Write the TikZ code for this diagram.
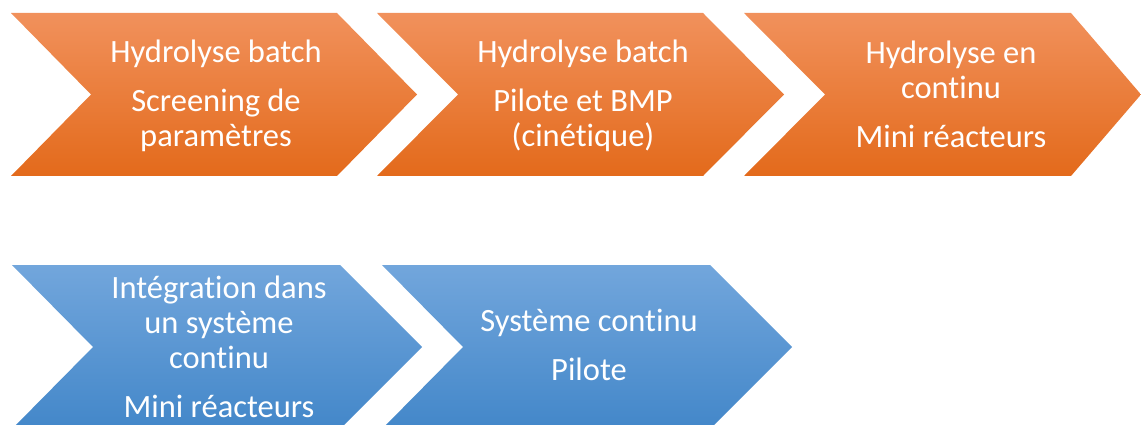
\documentclass[tikz,border=0pt]{standalone}
\usepackage{fontspec}
\setmainfont[Ligatures=NoCommon]{Carlito}
\definecolor{orTop}{RGB}{241,145,92}
\definecolor{orMid}{RGB}{242,125,43}
\definecolor{orBot}{RGB}{227,106,27}
\definecolor{blTop}{RGB}{114,166,220}
\definecolor{blMid}{RGB}{85,153,217}
\definecolor{blBot}{RGB}{67,135,201}
\tikzset{
  orangechev/.style={top color=orTop, middle color=orMid, bottom color=orBot, draw=none},
  bluechev/.style={top color=blTop, middle color=blMid, bottom color=blBot, draw=none},
  label/.style={text=white, align=center, inner sep=0pt, font=\fontsize{32.5}{35}\selectfont}
}
\begin{document}
\begin{tikzpicture}[x=1pt,y=-1pt]
\useasboundingbox (0,0) rectangle (1141,425);
\clip (0,0) rectangle (1141,425);
% top row
\path[orangechev] (11,13) -- (337,13) -- (417,94.5) -- (337,176) -- (11,176) -- (91,94.5) -- cycle;
\path[orangechev] (377,13) -- (703,13) -- (784,94.5) -- (703,176) -- (377,176) -- (458,94.5) -- cycle;
\path[orangechev] (744,13) -- (1071,13) -- (1141,94.5) -- (1071,176) -- (744,176) -- (825,94.5) -- cycle;
% bottom row
\path[bluechev] (12,265) -- (340,265) -- (422,347) -- (340,429) -- (12,429) -- (93,347) -- cycle;
\path[bluechev] (382,265) -- (710,265) -- (792,347) -- (710,429) -- (382,429) -- (463,347) -- cycle;
% texts
\node[label] (t1) at (216,95.5) {Hydrolyse batch\\[14pt]Screening de\\paramètres};
\node[label] (t2) at (583,95.5) {Hydrolyse batch\\[14pt]Pilote et BMP\\(cinétique)};
\node[label] (t3) at (951,94.5) {Hydrolyse en\\continu\\[14pt]Mini réacteurs};
\node[label] (b1) at (219,347) {Intégration dans\\un système\\continu\\[14pt]Mini réacteurs};
\node[label] (b2) at (589,345) {Système continu\\[14pt]Pilote};
\end{tikzpicture}
\end{document}
